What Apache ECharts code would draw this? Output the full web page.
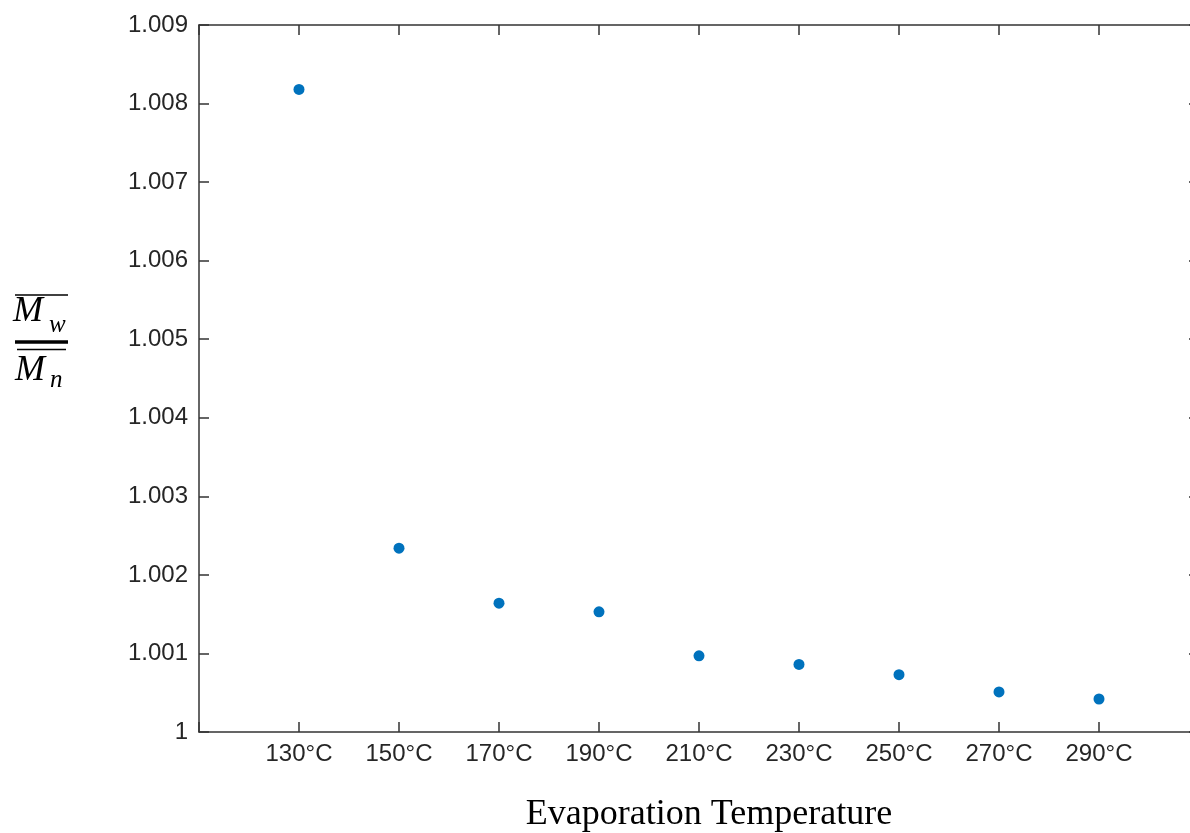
<!DOCTYPE html>
<html>
<head>
<meta charset="utf-8">
<script src="https://cdn.jsdelivr.net/npm/echarts@6/dist/echarts.min.js"></script>
<style>
  html, body { margin: 0; padding: 0; background: #fff; }
  #chart { width: 1190px; height: 833px; }
</style>
</head>
<body>
<div id="chart"></div>
<script>
// Evaporation temperatures (categories) and polydispersity index Mw/Mn
const temperatures = ['130°C', '150°C', '170°C', '190°C', '210°C', '230°C', '250°C', '270°C', '290°C'];
const ratioValues = [1.00818, 1.00234, 1.00164, 1.00153, 1.00097, 1.00086, 1.00073, 1.00051, 1.00042];
const yTickLabels = ['1', '1.001', '1.002', '1.003', '1.004', '1.005', '1.006', '1.007', '1.008', '1.009'];

const axisColor = '#333333';
const textColor = '#262626';
const labelFont = "'Liberation Sans', Arial, Helvetica, sans-serif";
const mathFont = "'Liberation Serif', 'DejaVu Serif', serif";

// each temperature sits at position 1..9 on a 0..10 scale
const points = temperatures.map((t, i) => [i + 1, ratioValues[i]]);

const chart = echarts.init(document.getElementById('chart'));

// boxed frame: every side carries inward ticks
function frameAxis() {
  return {
    axisLine: { show: true, onZero: false, lineStyle: { color: axisColor, width: 1.5 } },
    axisTick: { show: true, inside: true, length: 10, lineStyle: { color: axisColor, width: 1.5 } },
    splitLine: { show: false }
  };
}

chart.setOption({
  animation: false,
  backgroundColor: '#ffffff',
  grid: {
    left: 199, top: 25, width: 1000, height: 707,
    containLabel: false, outerBoundsMode: 'none'
  },
  xAxis: [
    Object.assign(frameAxis(), {
      type: 'value', position: 'bottom', min: 0, max: 10, interval: 1,
      axisLabel: {
        color: textColor, fontFamily: labelFont, fontSize: 24, margin: 10,
        formatter: (v) => temperatures[v - 1] || ''
      },
      name: 'Evaporation Temperature',
      nameLocation: 'middle',
      nameGap: 65,
      nameTextStyle: {
        color: '#000', fontFamily: "'Liberation Serif', 'Times New Roman', serif",
        fontSize: 36, padding: [0, 0, 0, 20]
      }
    }),
    Object.assign(frameAxis(), {
      type: 'value', position: 'top', min: 0, max: 10, interval: 1,
      axisLabel: { show: false }
    })
  ],
  yAxis: [
    Object.assign(frameAxis(), {
      type: 'value', position: 'left', min: 1, max: 1.009, interval: 0.001,
      axisLabel: {
        color: textColor, fontFamily: labelFont, fontSize: 24, margin: 11,
        formatter: (v, i) => yTickLabels[i] !== undefined ? yTickLabels[i] : ''
      }
    }),
    Object.assign(frameAxis(), {
      type: 'value', position: 'right', min: 1, max: 1.009, interval: 0.001,
      axisLabel: { show: false }
    })
  ],
  series: [{
    type: 'scatter',
    xAxisIndex: 0,
    yAxisIndex: 0,
    data: points,
    symbol: 'circle',
    symbolSize: 11,
    itemStyle: { color: '#0072BD', opacity: 1 }
  }],
  // y-axis title: the fraction Mw / Mn with overlines
  graphic: [
    { type: 'line', shape: { x1: 15, y1: 295, x2: 68, y2: 295 }, style: { stroke: '#000', lineWidth: 1.5 } },
    { type: 'text', x: 13, y: 312, style: { text: 'M', font: 'italic 36px ' + mathFont, fill: '#000', verticalAlign: 'middle' } },
    { type: 'text', x: 49, y: 325, style: { text: 'w', font: 'italic 25px ' + mathFont, fill: '#000', verticalAlign: 'middle' } },
    { type: 'line', shape: { x1: 15, y1: 342, x2: 68, y2: 342 }, style: { stroke: '#000', lineWidth: 3.5 } },
    { type: 'line', shape: { x1: 17, y1: 349.5, x2: 66, y2: 349.5 }, style: { stroke: '#000', lineWidth: 1.5 } },
    { type: 'text', x: 15, y: 370.5, style: { text: 'M', font: 'italic 36px ' + mathFont, fill: '#000', verticalAlign: 'middle' } },
    { type: 'text', x: 50, y: 380, style: { text: 'n', font: 'italic 25px ' + mathFont, fill: '#000', verticalAlign: 'middle' } }
  ]
});
</script>
</body>
</html>
